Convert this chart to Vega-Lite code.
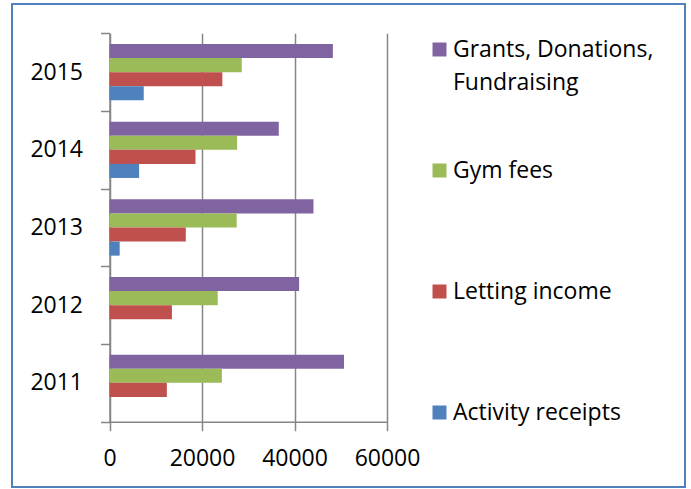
{
  "$schema": "https://vega.github.io/schema/vega-lite/v6.json",
  "width": 673,
  "height": 483,
  "autosize": {"type": "none"},
  "padding": {"left": 12, "top": 4, "right": 6, "bottom": 2},
  "background": "white",
  "config": {
    "view": {"stroke": "#4F81BD", "strokeWidth": 2},
    "font": "Open Sans",
    "style": {"guide-label": {"lineHeight": 33}}
  },
  "data": {
    "values": [
      {"year": "2015", "series": "Grants, Donations, Fundraising", "value": 48300},
      {"year": "2015", "series": "Gym fees", "value": 28600},
      {"year": "2015", "series": "Letting income", "value": 24400},
      {"year": "2015", "series": "Activity receipts", "value": 7400},
      {"year": "2014", "series": "Grants, Donations, Fundraising", "value": 36600},
      {"year": "2014", "series": "Gym fees", "value": 27600},
      {"year": "2014", "series": "Letting income", "value": 18600},
      {"year": "2014", "series": "Activity receipts", "value": 6400},
      {"year": "2013", "series": "Grants, Donations, Fundraising", "value": 44100},
      {"year": "2013", "series": "Gym fees", "value": 27500},
      {"year": "2013", "series": "Letting income", "value": 16500},
      {"year": "2013", "series": "Activity receipts", "value": 2200},
      {"year": "2012", "series": "Grants, Donations, Fundraising", "value": 41000},
      {"year": "2012", "series": "Gym fees", "value": 23400},
      {"year": "2012", "series": "Letting income", "value": 13500},
      {"year": "2011", "series": "Grants, Donations, Fundraising", "value": 50700},
      {"year": "2011", "series": "Gym fees", "value": 24300},
      {"year": "2011", "series": "Letting income", "value": 12400}
    ]
  },
  "encoding": {
    "y": {
      "field": "year",
      "type": "ordinal",
      "sort": "descending",
      "scale": {"range": [29.3, 417.7], "paddingInner": 0, "paddingOuter": 0},
      "axis": {
        "title": null,
        "offset": -97.5,
        "tickBand": "extent",
        "tickSize": 9,
        "tickColor": "#868686",
        "tickWidth": 1.5,
        "domainColor": "#868686",
        "domainWidth": 1.5,
        "labelFontSize": 23,
        "labelColor": "black",
        "labelPadding": 18,
        "grid": false
      }
    },
    "yOffset": {
      "field": "series",
      "type": "nominal",
      "sort": ["Grants, Donations, Fundraising", "Gym fees", "Letting income", "Activity receipts"],
      "scale": {"paddingInner": 0, "paddingOuter": 0.76}
    },
    "color": {
      "field": "series",
      "type": "nominal",
      "scale": {
        "domain": ["Grants, Donations, Fundraising", "Gym fees", "Letting income", "Activity receipts"],
        "range": ["#8064A2", "#9BBB59", "#C0504D", "#4F81BD"]
      },
      "legend": {
        "title": null,
        "orient": "none",
        "legendX": 416,
        "legendY": 34,
        "symbolType": "square",
        "symbolSize": 196,
        "symbolStrokeWidth": 0,
        "symbolOpacity": 1,
        "labelFontSize": 23,
        "labelColor": "black",
        "labelOffset": 2,
        "labelLimit": 300,
        "rowPadding": 64,
        "labelExpr": "datum.label == 'Grants, Donations, Fundraising' ? ['Grants, Donations,', 'Fundraising'] : [datum.label, '']"
      }
    }
  },
  "layer": [
    {
      "mark": {"type": "bar", "opacity": 0},
      "encoding": {
        "x": {
          "field": "value",
          "type": "quantitative",
          "scale": {"domain": [0, 60000], "range": [97.5, 375], "nice": false},
          "axis": {
            "orient": "top",
            "title": null,
            "values": [0, 20000, 40000, 60000],
            "grid": true,
            "gridColor": "#868686",
            "gridWidth": 1.5,
            "labels": false,
            "ticks": false,
            "domain": false
          }
        }
      }
    },
    {
      "mark": {"type": "bar"},
      "encoding": {
        "x": {
          "field": "value",
          "type": "quantitative",
          "scale": {"domain": [0, 60000], "range": [97.5, 375], "nice": false},
          "axis": {
            "orient": "bottom",
            "title": null,
            "offset": -65.3,
            "values": [0, 20000, 40000, 60000],
            "format": "d",
            "tickSize": 9,
            "tickColor": "#868686",
            "tickWidth": 1.5,
            "domainColor": "#868686",
            "domainWidth": 1.5,
            "grid": false,
            "labelFontSize": 23,
            "labelColor": "black",
            "labelPadding": 16.5,
            "labelFlush": false
          }
        }
      }
    }
  ],
  "resolve": {"axis": {"x": "independent"}}
}
